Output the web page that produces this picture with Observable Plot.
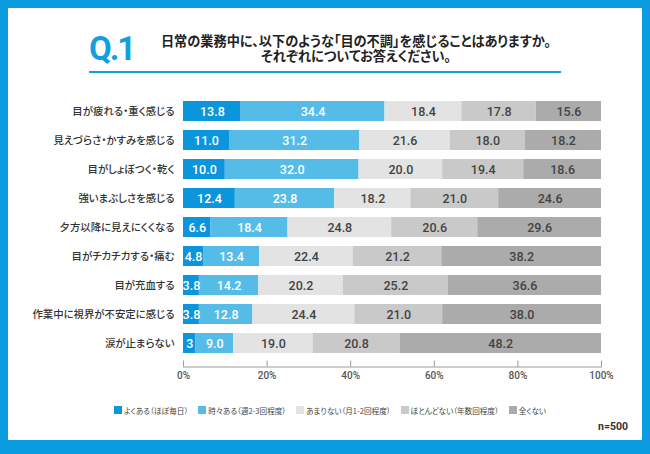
<!DOCTYPE html>
<html>
<head>
<meta charset="utf-8">
<script src="https://cdn.jsdelivr.net/npm/d3@7"></script>
<script src="https://cdn.jsdelivr.net/npm/@observablehq/plot@0.6"></script>
<style>
  html, body { margin: 0; padding: 0; background: #fff; }
  #card { position: relative; width: 650px; height: 454px; background: #0a9ce0; overflow: hidden;
    font-family: "Noto Sans CJK JP", sans-serif; font-feature-settings: "palt"; }
  #inner { position: absolute; left: 8px; top: 8px; width: 634px; height: 432px; background: #fff; }
  #q { position: absolute; left: 89px; top: 31px; font-family: Roboto, "Liberation Sans", sans-serif; font-weight: 700;
    font-size: 33px; line-height: 36px; color: #129fe1; letter-spacing: -2px; }
  .tl { position: absolute; left: 136px; width: 440px; text-align: center; font-size: 13.2px;
    line-height: 14px; font-weight: 700; color: #222; white-space: nowrap; }
  #t1 { top: 34px; }
  #t2 { top: 48.5px; }
  #uline { position: absolute; left: 89px; top: 70.5px; width: 472px; height: 2px; background: #129fe1; }
  #chart { position: absolute; left: 0; top: 88px; }
  #chart svg text { font-feature-settings: "palt"; }
  #legend { position: absolute; left: 114px; top: 404px; height: 12px; display: flex; gap: 10px; }
  .leg { display: flex; align-items: center; font-size: 7.6px; color: #444; white-space: nowrap; }
  .leg span.sw { display: inline-block; width: 8px; height: 8px; margin-right: 2px; }
  #n { position: absolute; right: 22px; top: 420px; font-family: Roboto, "Liberation Sans", sans-serif; font-weight: 700; font-size: 10.5px; color: #333; }
</style>
</head>
<body>
<div id="card">
  <div id="inner"></div>
  <div id="q">Q.1</div>
  <div class="tl" id="t1">日常の業務中に、以下のような「目の不調」を感じることはありますか。</div>
  <div class="tl" id="t2">それぞれについてお答えください。</div>
  <div id="uline"></div>
  <div id="chart"></div>
  <div id="legend"></div>
  <div id="n">n=500</div>
</div>
<script>
const categories = [
  "目が疲れる・重く感じる",
  "見えづらさ・かすみを感じる",
  "目がしょぼつく・乾く",
  "強いまぶしさを感じる",
  "夕方以降に見えにくくなる",
  "目がチカチカする・痛む",
  "目が充血する",
  "作業中に視界が不安定に感じる",
  "涙が止まらない"
];
const seriesNames = [
  "よくある（ほぼ毎日）",
  "時々ある（週2-3回程度）",
  "あまりない（月1-2回程度）",
  "ほとんどない（年数回程度）",
  "全くない"
];
const seriesColors = ["#0a95dc", "#55bce8", "#e3e3e3", "#c9c9c9", "#ababab"];
const often     = [13.8, 11.0, 10.0, 12.4, 6.6, 4.8, 3.8, 3.8, 3];
const sometimes = [34.4, 31.2, 32.0, 23.8, 18.4, 13.4, 14.2, 12.8, 9.0];
const rarely    = [18.4, 21.6, 20.0, 18.2, 24.8, 22.4, 20.2, 24.4, 19.0];
const hardly    = [17.8, 18.0, 19.4, 21.0, 20.6, 21.2, 25.2, 21.0, 20.8];
const never     = [15.6, 18.2, 18.6, 24.6, 29.6, 38.2, 36.6, 38.0, 48.2];
const oftenLabels = ["13.8", "11.0", "10.0", "12.4", "6.6", "4.8", "3.8", "3.8", "3"];
const xTicks = [0, 20, 40, 60, 80, 100];

const seriesValues = [often, sometimes, rarely, hardly, never];
const table = [];
categories.forEach((c, i) => {
  seriesValues.forEach((vals, s) => {
    table.push({
      category: c, series: seriesNames[s], si: s, value: vals[i],
      label: s === 0 ? oftenLabels[i] : vals[i].toFixed(1)
    });
  });
});

const H = 300, MT = 6.6, MB = 21.5;
const frameH = H - MT - MB;

const plot = Plot.plot({
  width: 650,
  height: H,
  marginLeft: 183,
  marginRight: 49,
  marginTop: MT,
  marginBottom: MB,
  style: { fontFamily: "Roboto, 'Noto Sans CJK JP', sans-serif", background: "transparent", overflow: "visible" },
  x: { domain: [0, 100] },
  y: { domain: categories, paddingInner: 0.32, paddingOuter: 0.16, insetBottom: 6.8, label: null },
  color: { domain: seriesNames, range: seriesColors },
  marks: [
    Plot.barX(table, Plot.stackX({ x: "value", y: "category", fill: "series" })),
    Plot.text(table, Plot.stackX({ x: "value", y: "category", text: d => d.si < 2 ? d.label : "",
      fill: "white", fontSize: 12.5, fontWeight: 500 })),
    Plot.text(table, Plot.stackX({ x: "value", y: "category", text: d => d.si >= 2 ? d.label : "",
      fill: "#444", fontSize: 12.5, fontWeight: 500 })),
    Plot.frame({ anchor: "bottom", stroke: "#9a9a9a" }),
    Plot.tickX(xTicks, { x: d => d, stroke: "#9a9a9a", insetTop: frameH - 6 }),
    Plot.axisX(xTicks, { tickSize: 0, tickPadding: 5, tickFormat: d => d + "%", fontSize: 10, color: "#555", fontWeight: 500, label: null }),
    Plot.axisY({ tickSize: 0, tickPadding: 9, fontSize: 10.4, color: "#333", fontFamily: "'Noto Sans CJK JP', sans-serif", fontWeight: 500, label: null })
  ]
});
document.getElementById("chart").appendChild(plot);

const legend = document.getElementById("legend");
seriesNames.forEach((name, i) => {
  const el = document.createElement("div");
  el.className = "leg";
  el.innerHTML = `<span class="sw" style="background:${seriesColors[i]}"></span>${name}`;
  legend.appendChild(el);
});
</script>
</body>
</html>
